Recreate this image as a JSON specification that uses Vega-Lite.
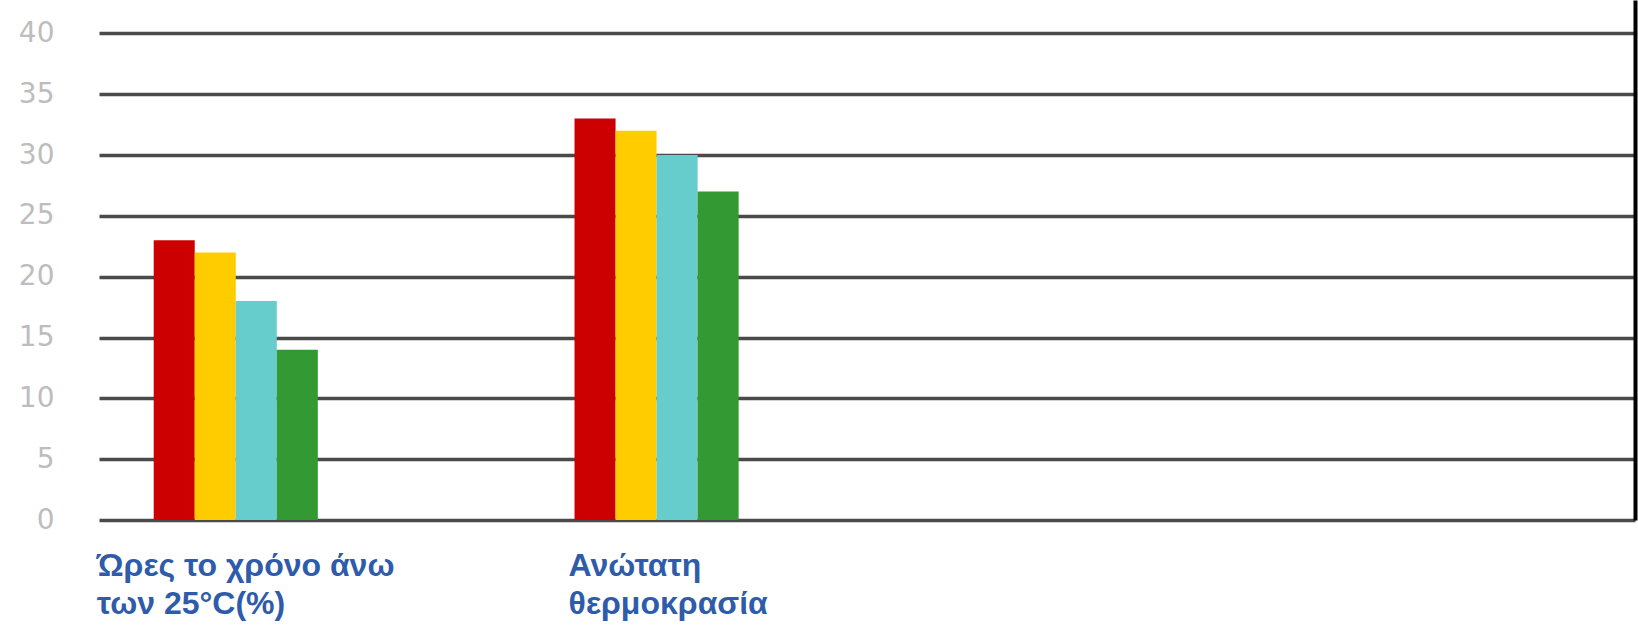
{
  "$schema": "https://vega.github.io/schema/vega-lite/v6.json",
  "width": 1536,
  "height": 520,
  "autosize": "none",
  "padding": {"left": 99, "top": 0, "right": 3, "bottom": 106},
  "background": "white",
  "config": {"view": {"stroke": null}, "font": "Liberation Sans"},
  "data": {
    "values": [
      {"category": "Ώρες το χρόνο άνω|των 25°C(%)", "series": "s1", "value": 23},
      {"category": "Ώρες το χρόνο άνω|των 25°C(%)", "series": "s2", "value": 22},
      {"category": "Ώρες το χρόνο άνω|των 25°C(%)", "series": "s3", "value": 18},
      {"category": "Ώρες το χρόνο άνω|των 25°C(%)", "series": "s4", "value": 14},
      {"category": "Ανώτατη|θερμοκρασία", "series": "s1", "value": 33},
      {"category": "Ανώτατη|θερμοκρασία", "series": "s2", "value": 32},
      {"category": "Ανώτατη|θερμοκρασία", "series": "s3", "value": 30},
      {"category": "Ανώτατη|θερμοκρασία", "series": "s4", "value": 27}
    ]
  },
  "encoding": {
    "x": {
      "field": "category",
      "type": "nominal",
      "sort": null,
      "scale": {
        "domain": ["Ώρες το χρόνο άνω|των 25°C(%)", "Ανώτατη|θερμοκρασία", "_3", "_4"],
        "paddingInner": 0.61,
        "paddingOuter": 0.13
      },
      "axis": {
        "title": null,
        "domain": false,
        "ticks": false,
        "grid": false,
        "labelAngle": 0,
        "labelExpr": "indexof(datum.value, '|') >= 0 ? split(datum.value, '|') : ''",
        "labelAlign": "left",
        "labelBaseline": "top",
        "labelOffset": {"condition": {"test": "indexof(datum.value, 'Ώρες') >= 0", "value": -139}, "value": -88},
        "labelPadding": 30,
        "labelFontSize": 32,
        "labelFontWeight": "bold",
        "labelColor": "#2f5caa",
        "labelLineHeight": 38,
        "labelLimit": 0,
        "labelOverlap": false,
        "labelBound": false
      }
    },
    "xOffset": {"field": "series", "type": "nominal", "scale": {"paddingInner": 0, "paddingOuter": 0}},
    "color": {
      "field": "series",
      "type": "nominal",
      "legend": null,
      "scale": {"domain": ["s1", "s2", "s3", "s4"], "range": ["#cc0000", "#ffcc00", "#66cccc", "#339933"]}
    }
  },
  "layer": [
    {
      "mark": {"type": "bar"},
      "encoding": {
        "y": {
          "field": "value",
          "type": "quantitative",
          "scale": {"domain": [0, 42.75], "nice": false, "zero": true},
          "axis": {
            "title": null,
            "orient": "left",
            "values": [0, 5, 10, 15, 20, 25, 30, 35, 40],
            "domain": false,
            "ticks": false,
            "grid": true,
            "gridColor": "#4a4a4a",
            "gridWidth": 3.5,
            "labelColor": "#bdbdbd",
            "labelFontSize": 28,
            "labelPadding": 45,
            "labelFont": "DejaVu Sans"
          }
        }
      }
    },
    {
      "mark": {"type": "bar", "opacity": 0},
      "encoding": {
        "y": {
          "field": "value",
          "type": "quantitative",
          "scale": {"domain": [0, 42.75], "nice": false, "zero": true},
          "axis": {
            "title": null,
            "orient": "right",
            "domain": true,
            "domainColor": "#000000",
            "domainWidth": 4,
            "ticks": false,
            "labels": false,
            "grid": false
          }
        }
      }
    }
  ],
  "resolve": {"axis": {"y": "independent"}}
}
